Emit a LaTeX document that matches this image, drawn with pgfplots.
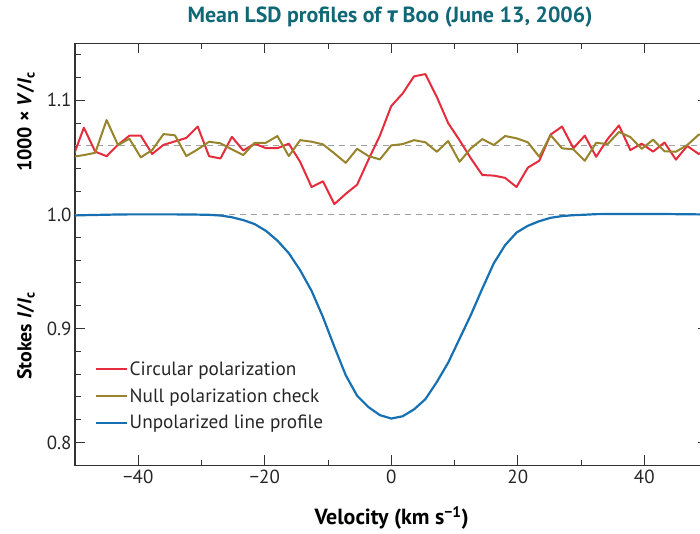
\documentclass[border=0pt]{standalone}
\usepackage{pgfplots}
\pgfplotsset{compat=1.18}
\usepackage{pgfplotstable}
\usepackage{fontspec}
\setmainfont{PT Sans}
\newfontfamily\greekfont{Fira Sans}

\definecolor{cpred}{RGB}{228,44,60}
\definecolor{cpolive}{RGB}{152,132,44}
\definecolor{cpblue}{RGB}{22,112,178}
\definecolor{titleteal}{RGB}{16,104,118}
\definecolor{refgray}{RGB}{160,160,160}

% Stokes V (scaled) and null profile, shifted to 1.06
\pgfplotstableread{
v circ null
-50.4 1.049 1.0505
-48.6 1.076 1.0520
-46.8 1.055 1.0540
-45.0 1.051 1.0827
-43.2 1.061 1.0608
-41.4 1.069 1.0663
-39.6 1.069 1.0500
-37.8 1.053 1.0564
-36.0 1.061 1.0704
-34.2 1.064 1.0693
-32.4 1.067 1.0511
-30.6 1.077 1.0570
-28.8 1.051 1.0637
-27.0 1.049 1.0623
-25.2 1.068 1.0570
-23.4 1.056 1.0520
-21.6 1.062 1.0628
-19.8 1.058 1.0628
-18.0 1.058 1.0687
-16.2 1.062 1.0511
-14.4 1.046 1.0651
-12.6 1.024 1.0637
-10.8 1.029 1.0614
-9.0 1.009 1.0535
-7.2 1.018 1.0452
-5.4 1.026 1.0575
-3.6 1.048 1.0511
-1.8 1.069 1.0482
0.0 1.095 1.0605
1.8 1.106 1.0616
3.6 1.121 1.0651
5.4 1.123 1.0632
7.2 1.103 1.0549
9.0 1.080 1.0643
10.8 1.065 1.0461
12.6 1.049 1.0579
14.4 1.0345 1.0660
16.2 1.034 1.0608
18.0 1.032 1.0687
19.8 1.024 1.0667
21.6 1.041 1.0632
23.4 1.047 1.0505
25.2 1.070 1.0695
27.0 1.077 1.0579
28.8 1.058 1.0570
30.6 1.069 1.0470
32.4 1.0505 1.0628
34.2 1.066 1.0616
36.0 1.078 1.0722
37.8 1.0564 1.0678
39.6 1.062 1.0575
41.4 1.055 1.0655
43.2 1.063 1.0553
45.0 1.048 1.0549
46.8 1.060 1.0608
48.6 1.053 1.0698
50.4 1.058 1.0720
}\vdata

% Stokes I
\pgfplotstableread{
v I
-50.4 0.9990
-48.6 0.9993
-46.8 0.9995
-45.0 0.9997
-43.2 0.9999
-41.4 1.0000
-39.6 1.0000
-37.8 1.0000
-36.0 1.0000
-34.2 1.0000
-32.4 0.9999
-30.6 0.9998
-28.8 0.9996
-27.0 0.9990
-25.2 0.9975
-23.4 0.9950
-21.6 0.9915
-19.8 0.9855
-18.0 0.9770
-16.2 0.9660
-14.4 0.9510
-12.6 0.9330
-10.8 0.9100
-9.0 0.8840
-7.2 0.8590
-5.4 0.8410
-3.6 0.8310
-1.8 0.8240
0.0 0.8210
1.8 0.8230
3.6 0.8290
5.4 0.8380
7.2 0.8530
9.0 0.8700
10.8 0.8910
12.6 0.9120
14.4 0.9350
16.2 0.9570
18.0 0.9730
19.8 0.9840
21.6 0.9900
23.4 0.9940
25.2 0.9970
27.0 0.9985
28.8 0.9993
30.6 0.9997
32.4 1.0002
34.2 1.0003
36.0 1.0003
37.8 1.0003
39.6 1.0003
41.4 1.0003
43.2 1.0003
45.0 1.0002
46.8 1.0001
48.6 1.0000
50.4 0.9998
}\idata

\begin{document}
\begin{tikzpicture}
\useasboundingbox (-75bp,-68.7bp) rectangle (625bp,465.3bp);
\clip (-75bp,-68.7bp) rectangle (625bp,465.3bp);
\begin{axis}[
    at={(0,0)}, anchor=south west,
    scale only axis,
    width=632.5bp, height=422bp,
    xmin=-50, xmax=50,
    ymin=0.78, ymax=1.15,
    xtick={-40,-20,0,20,40},
    xticklabels={−40,−20,0,20,40},
    minor xtick={-30,-10,10,30},
    ytick={0.8,0.9,1.0,1.1},
    yticklabels={0.8,0.9,1.0,1.1},
    minor ytick={0.82,0.84,0.86,0.88,0.92,0.94,0.96,0.98,1.02,1.04,1.06,1.08,1.12,1.14},
    tick align=inside,
    major tick length=10bp,
    minor tick length=5.5bp,
    every tick/.style={black!80, line width=0.9bp},
    axis line style={black!80, line width=1.1bp},
    ticklabel style={font=\fontsize{19}{19}\selectfont, text=black!85},
    xticklabel style={yshift=-1bp},
    legend style={draw=none, fill=none, at={(0.026,0.255)}, anchor=north west,
        font=\fontsize{19.3}{19.3}\selectfont, row sep=7.5bp,
        nodes={text=black!85}},
    legend cell align=left,
    legend image code/.code={\draw[#1, line width=2bp] (0bp,0bp) -- (25bp,0bp);
        \path (25bp,0bp) -- (31bp,0bp);},
]
\addplot[refgray, line width=1bp, dash pattern=on 6bp off 5bp, forget plot] coordinates {(-50,1.06) (50,1.06)};
\addplot[refgray, line width=1bp, dash pattern=on 6bp off 5bp, forget plot] coordinates {(-50,1.0) (50,1.0)};
\addplot[cpred, line width=2bp, line join=round] table[x=v, y=circ] {\vdata};
\addplot[cpolive, line width=2bp, line join=round] table[x=v, y=null] {\vdata};
\addplot[cpblue, line width=2.2bp, line join=round] table[x=v, y=I] {\idata};
\legend{Circular polarization, Null polarization check, Unpolarized line profile}
\end{axis}
\node[font=\bfseries\fontsize{22}{22}\selectfont, text=titleteal] at (315bp,448bp)
    {Mean LSD profiles of {\greekfont\bfseries\itshape τ} Boo (June 13, 2006)};
\node[font=\bfseries\fontsize{20}{20}\selectfont, rotate=90] at (-49bp,343.6bp)
    {1000 × \textit{V}/\textit{I}\textsubscript{c}};
\node[font=\bfseries\fontsize{20}{20}\selectfont, rotate=90] at (-49bp,129.6bp)
    {Stokes \textit{I}/\textit{I}\textsubscript{c}};
\node[font=\bfseries\fontsize{22}{22}\selectfont] at (316.7bp,-52.7bp)
    {Velocity (km s\textsuperscript{−1})};
\end{tikzpicture}
\end{document}
